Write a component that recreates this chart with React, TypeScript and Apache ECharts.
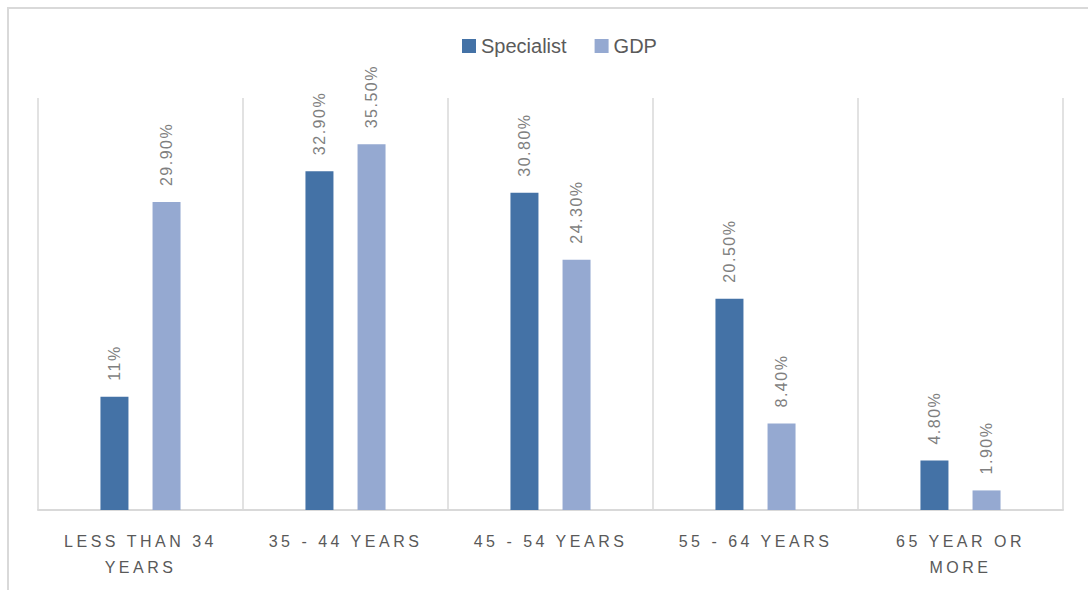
import React, { useEffect, useRef } from "react";
import * as echarts from "echarts";

const categories = ["LESS THAN 34\nYEARS", "35 - 44 YEARS", "45 - 54 YEARS", "55 - 64 YEARS", "65 YEAR OR\nMORE"];
const specialistValues = [11, 32.9, 30.8, 20.5, 4.8];
const specialistLabels = ["11%", "32.90%", "30.80%", "20.50%", "4.80%"];
const gdpValues = [29.9, 35.5, 24.3, 8.4, 1.9];
const gdpLabels = ["29.90%", "35.50%", "24.30%", "8.40%", "1.90%"];

const SPEC_COLOR = "#4472a6";
const GDP_COLOR = "#95a9d1";
const FONT = "'Liberation Sans', Arial, sans-serif";

export default function App() {
  const ref = useRef<HTMLDivElement>(null);
  useEffect(() => {
    if (!ref.current) return;
    const chart = echarts.init(ref.current, undefined, { renderer: "svg" });
    const labelCfg = (labels: string[]) => ({
      show: true,
      position: "top",
      rotate: 90,
      align: "left",
      verticalAlign: "middle",
      distance: 16,
      color: "#7f7f7f",
      fontSize: 16,
      fontFamily: FONT,
      formatter: (p: any) => labels[p.dataIndex],
    });
    chart.setOption({
      animation: false,
      backgroundColor: "#ffffff",
      textStyle: { fontFamily: FONT },
      graphic: [
        {
          type: "rect",
          shape: { x: 8, y: 8, width: 2000, height: 2000 },
          style: { fill: "none", stroke: "#d9d9d9", lineWidth: 2 },
          silent: true,
        },
      ],
      legend: {
        top: 31,
        left: 457,
        itemWidth: 14,
        itemHeight: 14,
        itemGap: 28,
        icon: "rect",
        textStyle: { color: "#5a5a5a", fontSize: 20, fontFamily: FONT },
        data: ["Specialist", "GDP"],
      },
      grid: { left: 38, right: 25, top: 98, bottom: 80 },
      xAxis: {
        type: "category",
        data: categories,
        axisLine: { show: true, lineStyle: { color: "#d9d9d9", width: 2 } },
        axisTick: { show: false },
        splitLine: { show: true, lineStyle: { color: "#d9d9d9", width: 1.5 } },
        axisLabel: {
          color: "#595959",
          fontSize: 16,
          fontFamily: FONT,
          margin: 18,
          lineHeight: 26,
          interval: 0,
        },
      },
      yAxis: {
        type: "value",
        min: 0,
        max: 40,
        show: false,
        splitLine: { show: false },
      },
      series: [
        {
          name: "Specialist",
          type: "bar",
          data: specialistValues,
          barWidth: 28,
          barGap: "86%",
          itemStyle: { color: SPEC_COLOR },
          label: labelCfg(specialistLabels),
        },
        {
          name: "GDP",
          type: "bar",
          data: gdpValues,
          barWidth: 28,
          itemStyle: { color: GDP_COLOR },
          label: labelCfg(gdpLabels),
        },
      ],
    });
    return () => chart.dispose();
  }, []);
  return (
    <>
      <style>{`body{margin:0;overflow:hidden}
        .chart text[fill="#595959"]{letter-spacing:3.5px}
        .chart text[fill="#7f7f7f"]{letter-spacing:1.5px}`}</style>
      <div className="chart" ref={ref} style={{ width: 1088, height: 590 }} />
    </>
  );
}
